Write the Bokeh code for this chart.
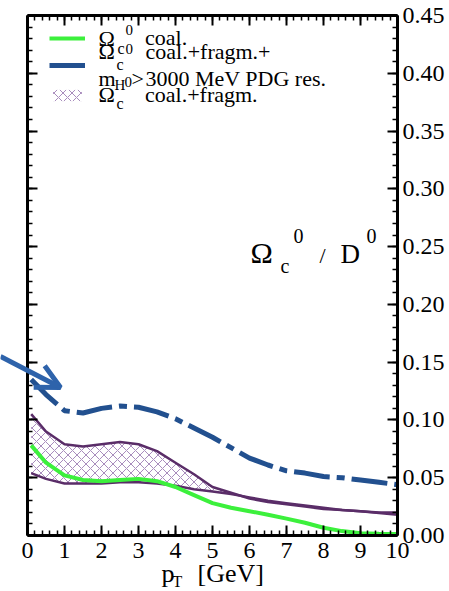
from bokeh.plotting import figure
from bokeh.models import (LinearAxis, SingleIntervalTicker, NumeralTickFormatter,
                          CustomJSTickFormatter, Legend, LegendItem, Label, Arrow,
                          OpenHead, Range1d)
from bokeh.embed import file_html
from bokeh.resources import INLINE

# ---------------- data ----------------
pt = [0.1, 0.5, 1.0, 1.5, 2.0, 2.5, 3.0, 3.5, 4.0, 4.5, 5.0,
      5.5, 6.0, 6.5, 7.0, 7.5, 8.0, 8.5, 9.0, 9.5, 10.0]
omega_coal = [0.078, 0.063, 0.052, 0.048, 0.047, 0.048, 0.049, 0.047, 0.042, 0.035, 0.028,
              0.024, 0.021, 0.018, 0.0146, 0.011, 0.0067, 0.0038, 0.002, 0.0015, 0.0012]
omega_pdg = [0.135, 0.122, 0.108, 0.106, 0.110, 0.112, 0.111, 0.107, 0.101, 0.093, 0.085,
             0.076, 0.067, 0.061, 0.056, 0.054, 0.051, 0.050, 0.048, 0.046, 0.044]
band_upper = [0.105, 0.090, 0.079, 0.077, 0.079, 0.081, 0.079, 0.073, 0.063, 0.053, 0.042,
              0.037, 0.032, 0.029, 0.027, 0.025, 0.023, 0.022, 0.021, 0.020, 0.020]
band_lower = [0.054, 0.049, 0.045, 0.045, 0.045, 0.046, 0.046, 0.045, 0.043, 0.040, 0.038,
              0.036, 0.033, 0.030, 0.028, 0.026, 0.024, 0.022, 0.021, 0.0195, 0.018]

x_lo, x_hi = 0, 10
y_lo, y_hi = 0, 0.45
x_tick_step = 1
y_tick_step = 0.05

# ---------------- page geometry (pixels) ----------------
W, H = 449, 591
FL, FR, FT, FB = 27, 397, 15, 535      # axes box in page pixels

def X(px):
    return x_lo + (px - FL) / (FR - FL) * (x_hi - x_lo)
def Y(py):
    return y_lo + (FB - py) / (FB - FT) * (y_hi - y_lo)

# the plot frame spans the whole canvas; the axes sit at fixed data locations
p = figure(width=W, height=H, x_range=Range1d(X(0), X(W)), y_range=Range1d(Y(H), Y(0)),
           output_backend="svg", toolbar_location=None, y_axis_location="right",
           min_border=0)
p.xgrid.visible = False
p.ygrid.visible = False
p.outline_line_color = None
p.background_fill_color = "white"
p.border_fill_color = "white"

FONT = "Liberation Serif"
TICK_SIZE = "24px"

def style(ax, labels=True, standoff=6):
    ax.axis_line_width = 3
    ax.axis_line_color = "black"
    ax.major_tick_in = 10
    ax.major_tick_out = 0
    ax.minor_tick_in = 5
    ax.minor_tick_out = 0
    ax.major_tick_line_width = 2
    ax.minor_tick_line_width = 1.5
    ax.major_label_text_font = FONT
    ax.major_label_text_color = "black"
    if labels:
        ax.major_label_text_font_size = TICK_SIZE
        ax.major_label_standoff = standoff
    else:
        ax.major_label_text_font_size = "1px"
        ax.major_label_standoff = 0
        ax.formatter = CustomJSTickFormatter(code="return ''")

xb = p.xaxis[0]
xb.ticker = SingleIntervalTicker(interval=x_tick_step, num_minor_ticks=5)
xb.bounds = (x_lo, x_hi)
xb.fixed_location = y_lo
style(xb, standoff=7)

yr = p.yaxis[0]
yr.ticker = SingleIntervalTicker(interval=y_tick_step, num_minor_ticks=5)
yr.formatter = NumeralTickFormatter(format="0.00")
yr.bounds = (y_lo, y_hi)
yr.fixed_location = x_hi
style(yr, standoff=5)

top_ax = LinearAxis(ticker=SingleIntervalTicker(interval=x_tick_step, num_minor_ticks=5),
                    bounds=(x_lo, x_hi), fixed_location=y_hi)
left_ax = LinearAxis(ticker=SingleIntervalTicker(interval=y_tick_step, num_minor_ticks=5),
                     bounds=(y_lo, y_hi), fixed_location=x_lo)
style(top_ax, labels=False)
style(left_ax, labels=False)
p.add_layout(top_ax, "above")
p.add_layout(left_ax, "left")

# ---------------- glyphs ----------------
band = p.varea(x=pt, y1=band_lower, y2=band_upper, fill_alpha=0,
               hatch_pattern="x", hatch_color="#a88cbc", hatch_scale=9, hatch_weight=1)
PURPLE = "#5a2d68"
p.line(pt, band_upper, line_color=PURPLE, line_width=2.5)
p.line(pt, band_lower, line_color=PURPLE, line_width=2.5)
green = p.line(pt, omega_coal, line_color="#3cf03c", line_width=4)
blue = p.line(pt, omega_pdg, line_color="#22508f", line_width=5, line_dash="36 7 8 7")

# ---------------- legend (one box per entry, stacked) ----------------
LEG_X = 49
ITEM_H = 26
def add_legend(label, renderer, center_py):
    lg = Legend(items=[LegendItem(label=label, renderers=[renderer])],
                location=(LEG_X, (H - center_py) - ITEM_H / 2),
                glyph_width=36, glyph_height=14, label_height=ITEM_H,
                label_standoff=60, padding=0, margin=0, spacing=0,
                border_line_color=None, background_fill_alpha=0,
                label_text_font=FONT, label_text_font_size="22px",
                label_text_color="black")
    p.add_layout(lg)

add_legend("coal.", green, 38)
add_legend("", blue, 65)
add_legend("coal.+fragm.", band, 95)

BASE_FIX = 0.33   # renderer places the alphabetic baseline ~0.33 em low; compensate

def lab(text, px, baseline, size):
    p.add_layout(Label(x=X(px), y=Y(baseline - BASE_FIX * size), text=text, text_font=FONT,
                       text_font_size=f"{size}px", text_color="black",
                       text_baseline="alphabetic", text_align="left"))

# legend symbols / extra text rows
lab("\u03a9", 98, 45, 22)
lab("0", 125, 34, 15)
lab("c", 117, 53, 16)
lab("\u03a9", 98, 58, 22)
lab("0", 125, 53, 15)
lab("c", 116, 69, 16)
lab("coal.+fragm.+", 145, 58, 22)
lab("m", 98, 85, 22)
lab("H", 114, 89, 15)
lab("0", 124, 86, 15)
lab(">", 131, 85, 22)
lab("3000 MeV PDG res.", 145, 85, 22)
lab("\u03a9", 98, 101, 22)
lab("c", 116, 108, 16)

# ratio label
lab("\u03a9", 250, 262, 30)
lab("c", 280, 272, 20)
lab("0", 293, 242, 20)
lab("/", 319, 262, 22)
lab("D", 340, 262, 27)
lab("0", 366, 242, 20)

# x-axis title
lab("p", 161, 582, 26)
lab("T", 172, 586, 16)
lab("[GeV]", 197, 582, 26)

# arrow
ARROW_C = "#2e63ab"
p.add_layout(Arrow(end=OpenHead(size=24, line_color=ARROW_C, line_width=5),
                   x_start=X(0), y_start=Y(356), x_end=X(60), y_end=Y(387),
                   line_color=ARROW_C, line_width=5))

open("out.html", "w").write(file_html(p, INLINE))
